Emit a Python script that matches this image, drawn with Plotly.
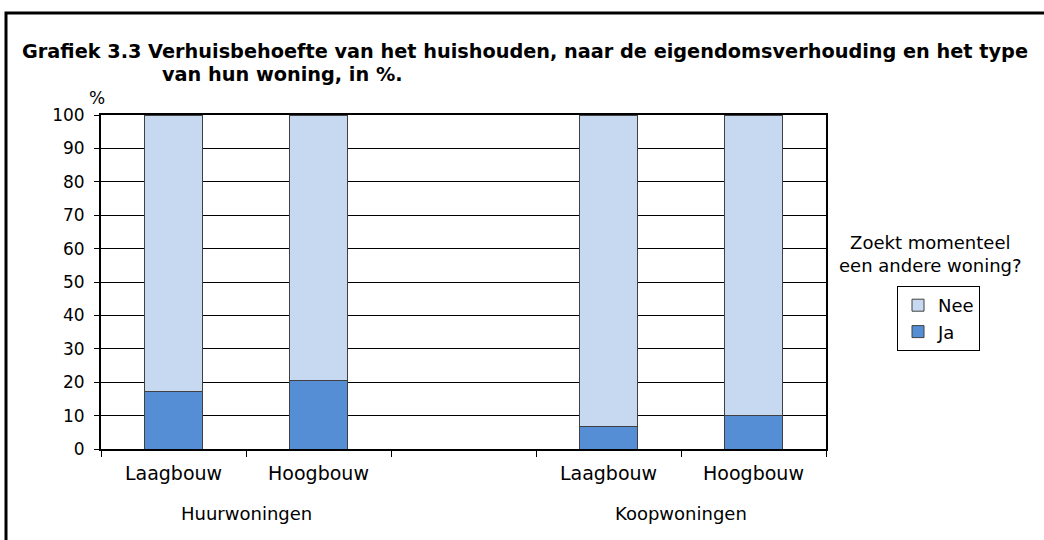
import plotly.graph_objects as go

# categories (one blank slot separates the two groups)
CATEGORY_IDS = ["huur_laag", "huur_hoog", "gap", "koop_laag", "koop_hoog"]
CATEGORY_LABELS = ["Laagbouw", "Hoogbouw", "", "Laagbouw", "Hoogbouw"]
BAR_IDS = ["huur_laag", "huur_hoog", "koop_laag", "koop_hoog"]
GROUPS = ["Huurwoningen", "Koopwoningen"]

# % zoekt momenteel een andere woning
JA = [17.1, 20.6, 6.6, 10.0]
NEE = [82.9, 79.4, 93.4, 90.0]

FONT = "DejaVu Sans, sans-serif"
C_JA = "#558ED5"
C_NEE = "#C6D9F1"
OUTLINE = "#404040"

fig = go.Figure()
fig.add_trace(go.Bar(
    x=BAR_IDS, y=JA, name="Ja", width=0.4,
    marker=dict(color=C_JA, line=dict(color=OUTLINE, width=1)),
))
fig.add_trace(go.Bar(
    x=BAR_IDS, y=NEE, name="Nee", width=0.4,
    marker=dict(color=C_NEE, line=dict(color=OUTLINE, width=1)),
))

# plot area in pixels: left 101, right 826, top 115, bottom 449
W, H = 1044, 540
L, R, T, B = 101, 826, 115, 449


def px(x):
    return (x - L) / (R - L)


def py(y):
    return (B - y) / (B - T)


annotations = [
    dict(x=px(20), y=py(51), xref="paper", yref="paper", xanchor="left", yanchor="middle",
         text="<b>Grafiek 3.3 Verhuisbehoefte van het huishouden, naar de eigendomsverhouding en het type</b>",
         showarrow=False, font=dict(size=19.3, color="black", family=FONT)),
    dict(x=px(160), y=py(75), xref="paper", yref="paper", xanchor="left", yanchor="middle",
         text="<b>van hun woning, in %.</b>",
         showarrow=False, font=dict(size=19.3, color="black", family=FONT)),
    dict(x=px(97), y=py(98), xref="paper", yref="paper", xanchor="center", yanchor="middle",
         text="%", showarrow=False, font=dict(size=17, color="black", family=FONT)),
    dict(x=px(930), y=py(254), xref="paper", yref="paper", xanchor="center", yanchor="middle",
         text="Zoekt momenteel<br>een andere woning?", showarrow=False,
         font=dict(size=18, color="black", family=FONT)),
]
for i, g in enumerate(GROUPS):
    annotations.append(dict(
        x=0.5 + 3 * i, y=py(513), xref="x", yref="paper", xanchor="center", yanchor="middle",
        text=g, showarrow=False, font=dict(size=18, color="black", family=FONT),
    ))

fig.update_layout(
    width=W, height=H,
    margin=dict(l=L, r=W - R, t=T, b=H - B),
    paper_bgcolor="white", plot_bgcolor="white",
    barmode="stack",
    font=dict(family=FONT, size=17, color="black"),
    showlegend=True,
    legend=dict(
        x=px(897), y=py(286), xanchor="left", yanchor="top",
        bordercolor="black", borderwidth=1, bgcolor="white",
        font=dict(size=18, color="black", family=FONT),
        itemwidth=30, tracegroupgap=0,
    ),
    xaxis=dict(
        type="category", categoryorder="array", categoryarray=CATEGORY_IDS,
        tickvals=CATEGORY_IDS, ticktext=CATEGORY_LABELS,
        tickson="boundaries", ticks="outside", ticklen=6, tickcolor="black", tickwidth=1,
        showline=True, linecolor="black", linewidth=2, mirror=True,
        showgrid=False, range=[-0.5, 4.5], ticklabelstandoff=6,
        tickfont=dict(size=19, color="black", family=FONT),
    ),
    yaxis=dict(
        range=[0, 100], dtick=10, tick0=0,
        ticks="outside", ticklen=5, tickcolor="black", tickwidth=1,
        showline=True, linecolor="black", linewidth=2, mirror=True,
        showgrid=True, gridcolor="black", gridwidth=1, zeroline=False,
        ticklabelstandoff=6,
        tickfont=dict(size=17, color="black", family=FONT),
    ),
    annotations=annotations,
    shapes=[dict(
        type="rect", xref="paper", yref="paper",
        x0=px(6), x1=px(1060), y0=py(560), y1=py(13),
        line=dict(color="black", width=3), fillcolor="rgba(0,0,0,0)", layer="above",
    )],
)

fig.write_html("out.html", config={"displayModeBar": False},
               post_script="document.body.style.margin='0';")
